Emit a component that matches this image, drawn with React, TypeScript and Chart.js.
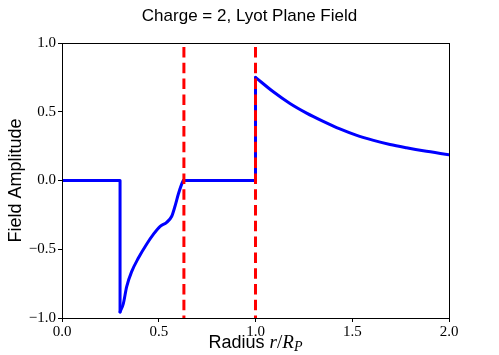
import React, { useEffect, useRef } from "react";
import { Chart, registerables } from "chart.js";

Chart.register(...registerables);

// Lyot plane field, charge 2
const radius = [
  0.0, 0.3, 0.3, 0.317, 0.334, 0.36, 0.394, 0.438, 0.472, 0.506, 0.541, 0.567,
  0.584, 0.601, 0.618, 0.627, 1.0, 1.0, 1.092, 1.178, 1.264, 1.35, 1.436, 1.52,
  1.61, 1.695, 1.78, 1.867, 2.0,
];
const field = [
  0.0, 0.0, -0.956, -0.895, -0.773, -0.663, -0.566, -0.462, -0.392, -0.335,
  -0.304, -0.26, -0.187, -0.1, -0.028, 0.0, 0.0, 0.75, 0.645, 0.56, 0.49,
  0.43, 0.375, 0.33, 0.292, 0.262, 0.238, 0.216, 0.188,
];
// index ranges: straight pieces and smooth pieces of the curve
const smoothRanges = [
  [2, 15],
  [17, 28],
];
const straightRanges = [
  [0, 2],
  [15, 17],
];
const markerRadii = [0.63, 1.0];
const xTicks = [0.0, 0.5, 1.0, 1.5, 2.0];
const yTicks = [-1.0, -0.5, 0.0, 0.5, 1.0];

const titleText = "Charge = 2, Lyot Plane Field";
const yLabel = "Field Amplitude";

const SANS = "'Liberation Sans', Arial, sans-serif";
const SERIF = "'Liberation Serif', 'Times New Roman', serif";

const fmt = (v: number) => v.toFixed(1).replace("-", "\u2212");

const textPlugin = {
  id: "textPlugin",
  afterDraw(chart: any) {
    const ctx = chart.ctx as CanvasRenderingContext2D;
    const a = chart.chartArea;
    ctx.save();
    ctx.strokeStyle = "#000";
    ctx.lineWidth = 1;
    ctx.strokeRect(Math.round(a.left) + 0.5, Math.round(a.top) + 0.5, Math.round(a.right - a.left), Math.round(a.bottom - a.top));
    ctx.fillStyle = "#000";
    ctx.font = `17px ${SANS}`;
    ctx.textAlign = "center";
    ctx.textBaseline = "alphabetic";
    ctx.fillText(titleText, chart.width / 2, 21);
    ctx.save();
    ctx.font = `18px ${SANS}`;
    ctx.translate(21, (a.top + a.bottom) / 2);
    ctx.rotate(-Math.PI / 2);
    ctx.textAlign = "center";
    ctx.fillText(yLabel, 0, 0);
    ctx.restore();
    const parts: { t: string; f: string; dy: number }[] = [
      { t: "Radius ", f: `18px ${SANS}`, dy: 0 },
      { t: "r", f: `italic 19px ${SERIF}`, dy: 0 },
      { t: "/", f: `19px ${SERIF}`, dy: 0 },
      { t: "R", f: `italic 19px ${SERIF}`, dy: 0 },
      { t: "P", f: `italic 14px ${SERIF}`, dy: 3 },
    ];
    let total = 0;
    const widths = parts.map((p) => {
      ctx.font = p.f;
      const w = ctx.measureText(p.t).width;
      total += w;
      return w;
    });
    let x = (a.left + a.right) / 2 - total / 2;
    ctx.textAlign = "left";
    parts.forEach((p, i) => {
      ctx.font = p.f;
      ctx.fillText(p.t, x, 348 + p.dy);
      x += widths[i];
    });
    ctx.restore();
  },
};

export default function App() {
  const ref = useRef<HTMLCanvasElement | null>(null);
  useEffect(() => {
    if (!ref.current) return;
    const pts = radius.map((r, i) => ({ x: r, y: field[i] }));
    const markerSets = markerRadii.map((r) => ({
      label: `r=${r}`,
      data: [
        { x: r, y: 1 },
        { x: r, y: -1 },
      ],
      borderColor: "#ff0000",
      borderWidth: 3,
      borderDash: [10.5, 5.3],
      borderDashOffset: 11.8,
      pointRadius: 0,
      fill: false,
      order: 0,
    }));
    const blueBase = {
      borderColor: "#0000ff",
      borderWidth: 3,
      pointRadius: 0,
      fill: false,
      order: 1,
      borderJoinStyle: "round",
      borderCapStyle: "round",
    };
    const straightSets = straightRanges.map(([s, e]) => ({
      ...blueBase,
      label: "field",
      data: pts.slice(s, e + 1),
      tension: 0,
    }));
    const smoothSets = smoothRanges.map(([s, e]) => ({
      ...blueBase,
      label: "field",
      data: pts.slice(s, e + 1),
      cubicInterpolationMode: "monotone",
    }));
    const chart = new Chart(ref.current, {
      type: "line",
      data: {
        datasets: [...markerSets, ...straightSets, ...smoothSets],
      },
      options: {
        animation: false,
        responsive: false,
        events: [],
        layout: { padding: { left: 0, top: 43, right: 50, bottom: 0 } },
        plugins: { legend: { display: false }, title: { display: false }, tooltip: { enabled: false } },
        scales: {
          x: {
            type: "linear",
            min: 0,
            max: 2,
            afterFit: (s: any) => {
              s.height = 37;
            },
            afterBuildTicks: (s: any) => {
              s.ticks = xTicks.map((v) => ({ value: v }));
            },
            ticks: {
              callback: (v: any) => fmt(Number(v)),
              font: { family: SERIF, size: 15 },
              color: "#000",
              padding: 1,
              maxRotation: 0,
            },
            grid: { drawOnChartArea: false, drawTicks: true, tickLength: 4, color: "#000", lineWidth: 1 },
            border: { display: false },
          },
          y: {
            type: "linear",
            min: -1,
            max: 1,
            afterFit: (s: any) => {
              s.width = 62;
            },
            afterBuildTicks: (s: any) => {
              s.ticks = yTicks.map((v) => ({ value: v }));
            },
            ticks: {
              callback: (v: any) => fmt(Number(v)),
              font: { family: SERIF, size: 15 },
              color: "#000",
              padding: 2,
            },
            grid: { drawOnChartArea: false, drawTicks: true, tickLength: 4, color: "#000", lineWidth: 1 },
            border: { display: false },
          },
        },
      },
      plugins: [textPlugin],
    } as any);
    return () => chart.destroy();
  }, []);
  return (
    <div style={{ position: "fixed", left: 0, top: 0, width: 499, height: 355, background: "#fff" }}>
      <canvas ref={ref} width={499} height={355} style={{ display: "block", width: 499, height: 355 }} />
    </div>
  );
}
